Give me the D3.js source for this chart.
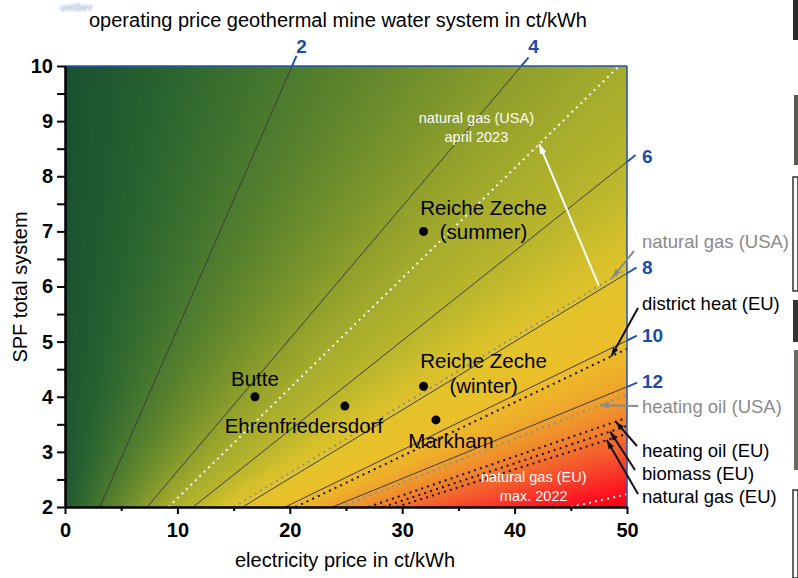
<!DOCTYPE html>
<html>
<head>
<meta charset="utf-8">
<script src="https://cdn.jsdelivr.net/npm/d3@7/dist/d3.min.js"></script>
<style>
  html, body { margin: 0; padding: 0; background: #fff; }
  svg { display: block; font-family: "Liberation Sans", Arial, sans-serif; }
</style>
</head>
<body>
<svg id="chart" width="798" height="578"></svg>
<script>
// ---- axis ticks ----
const xMajor = [0, 10, 20, 30, 40, 50];
const xMinor = [5, 15, 25, 35, 45];
const yMajor = [2, 3, 4, 5, 6, 7, 8, 9, 10];
const yMinor = [2.5, 3.5, 4.5, 5.5, 6.5, 7.5, 8.5, 9.5];

// ---- iso-lines of the operating price (ct/kWh): [electricity price, SPF] end points ----
const contourLabels = ["2", "4", "6", "8", "10", "12"];
const contourFrom = [[3.1, 2], [7.3, 2], [11.4, 2], [15.8, 2], [19.6, 2], [23.8, 2]];
const contourTo   = [[20.2, 10], [40.6, 10], [50, 8.26], [50, 6.24], [50, 5.02], [50, 4.18]];

// ---- heat prices of conventional supply, drawn as dotted iso-lines ----
const refNames = ["natural gas (USA) april 2023", "natural gas (USA)", "district heat (EU)",
                  "heating oil (USA)", "heating oil (EU)", "biomass (EU)", "natural gas (EU)",
                  "natural gas (EU) max. 2022"];
const refGroup = ["highlight", "usa", "eu", "usa", "eu", "eu", "eu", "highlight"];
const refFrom = [[9.2, 2], [15.0, 2], [20.5, 2], [24.5, 2], [27.0, 2], [28.3, 2], [29.5, 2], [45.0, 2]];
const refTo   = [[49.3, 10], [50, 6.32], [50, 4.87], [50, 4.04], [50, 3.62], [50, 3.47], [50, 3.33], [50, 2.23]];

// ---- mine water sites: electricity price (ct/kWh) and SPF of the total system ----
const siteNames = ["Butte", "Ehrenfriedersdorf", "Reiche Zeche (summer)", "Reiche Zeche (winter)", "Markham"];
const siteElec  = [16.9, 24.9, 31.9, 31.9, 33.0];
const siteSPF   = [4.0, 3.83, 7.0, 4.19, 3.58];

// ---- colour ramp of the operating price field ----
const priceStops  = [0, 1, 2, 3, 4, 5, 6, 7, 8, 9.5, 11, 13, 15, 18, 21, 24];
const priceColors = ["#174f30", "#2a6430", "#4a792e", "#6b8c2c", "#8f9f2b", "#a8ad2c", "#bab62c",
                     "#d2bf2b", "#e3c32a", "#ebc02a", "#eeae2a", "#f08e2c", "#f36a2d", "#f83c2a",
                     "#ff1420", "#ff0018"];
// operating price = (electricity price + offset) / (gain * SPF)
const priceOffset = 1.0, priceGain = 1.04;

const svg = d3.select("#chart");
const plot = { left: 65, right: 627, top: 66, bottom: 507 };

const x = d3.scaleLinear().domain([0, 50]).range([plot.left, plot.right]);
const y = d3.scaleLinear().domain([2, 10]).range([plot.bottom, plot.top]);
const color = d3.scaleLinear().domain(priceStops).range(priceColors)
  .interpolate(d3.interpolateRgb).clamp(true);

const blue = "#1f55b5";
const blueText = "#1a4da6";

// ---- price field rendered to a raster ----
{
  const pw = plot.right - plot.left, ph = plot.bottom - plot.top;
  const cv = document.createElement("canvas");
  cv.width = pw; cv.height = ph;
  const ctx = cv.getContext("2d");
  const img = ctx.createImageData(pw, ph);
  for (let j = 0; j < ph; j++) {
    const spf = y.invert(plot.top + j + 0.5);
    for (let i = 0; i < pw; i++) {
      const el = x.invert(plot.left + i + 0.5);
      const p = (el + priceOffset) / (priceGain * spf);
      const c = d3.rgb(color(p));
      const k = (j * pw + i) * 4;
      img.data[k] = c.r; img.data[k + 1] = c.g; img.data[k + 2] = c.b; img.data[k + 3] = 255;
    }
  }
  ctx.putImageData(img, 0, 0);
  svg.append("image")
    .attr("x", plot.left).attr("y", plot.top)
    .attr("width", pw).attr("height", ph)
    .attr("href", cv.toDataURL());
}

const defs = svg.append("defs");
defs.append("clipPath").attr("id", "plotClip")
  .append("rect").attr("x", plot.left).attr("y", plot.top)
  .attr("width", plot.right - plot.left).attr("height", plot.bottom - plot.top);
defs.append("filter").attr("id", "soft")
  .append("feGaussianBlur").attr("stdDeviation", 0.8);

function arrowMarker(id, fill, len, wid) {
  defs.append("marker").attr("id", id)
    .attr("viewBox", `0 0 ${len} ${wid}`)
    .attr("refX", len).attr("refY", wid / 2)
    .attr("markerWidth", len).attr("markerHeight", wid)
    .attr("markerUnits", "userSpaceOnUse")
    .attr("orient", "auto")
    .append("path").attr("d", `M0,0 L${len},${wid / 2} L0,${wid} Z`).attr("fill", fill);
}
arrowMarker("arBlack", "#111", 9, 6);
arrowMarker("arGray", "#8a8a8a", 9, 6);
arrowMarker("arWhite", "#fff", 10, 7);

const clipped = svg.append("g").attr("clip-path", "url(#plotClip)");

// ---- contour lines of the operating price ----
const contours = contourLabels.map((lab, i) => ({ lab, a: contourFrom[i], b: contourTo[i] }));
clipped.selectAll("line.contour").data(contours).join("line")
  .attr("class", "contour")
  .attr("x1", d => x(d.a[0])).attr("y1", d => y(d.a[1]))
  .attr("x2", d => x(d.b[0])).attr("y2", d => y(d.b[1]))
  .attr("stroke", "#3c3c3c").attr("stroke-width", 1);

// ---- reference heat prices ----
const refStroke = { highlight: "#ffffff", usa: "#8f8f8f", eu: "#111111" };
const refs = refNames.map((n, i) => ({ n, g: refGroup[i], a: refFrom[i], b: refTo[i] }));
clipped.selectAll("line.ref").data(refs).join("line")
  .attr("class", "ref")
  .attr("x1", d => x(d.a[0])).attr("y1", d => y(d.a[1]))
  .attr("x2", d => x(d.b[0])).attr("y2", d => y(d.b[1]))
  .attr("stroke", d => refStroke[d.g]).attr("stroke-width", 2)
  .attr("stroke-dasharray", "2 4.2");

function spfOn(ref, el) {
  return ref.a[1] + (ref.b[1] - ref.a[1]) * (el - ref.a[0]) / (ref.b[0] - ref.a[0]);
}

// ---- frame: blue top and right borders ----
svg.append("line").attr("x1", plot.left).attr("x2", plot.right)
  .attr("y1", plot.top).attr("y2", plot.top).attr("stroke", blue).attr("stroke-width", 1.5);
svg.append("line").attr("x1", plot.right).attr("x2", plot.right)
  .attr("y1", plot.top).attr("y2", plot.bottom).attr("stroke", blue).attr("stroke-width", 1.5);

// ---- blue leaders + price labels of the contours ----
contours.forEach(d => {
  const x1 = x(d.a[0]), y1 = y(d.a[1]), x2 = x(d.b[0]), y2 = y(d.b[1]);
  const L = Math.hypot(x2 - x1, y2 - y1);
  const ux = (x2 - x1) / L, uy = (y2 - y1) / L;
  const ext = 11;
  const ex = x2 + ux * ext, ey = y2 + uy * ext;
  svg.append("line").attr("x1", x2).attr("y1", y2).attr("x2", ex).attr("y2", ey)
    .attr("stroke", blue).attr("stroke-width", 2);
  const onTop = d.b[1] >= 10;
  svg.append("text")
    .attr("x", onTop ? ex + 5 : plot.right + 15)
    .attr("y", onTop ? plot.top - 13 : y2 + 1)
    .attr("text-anchor", onTop ? "middle" : "start")
    .attr("font-size", 19).attr("font-weight", "bold")
    .attr("fill", blueText).text(d.lab);
});

// ---- axes ----
const xAxis = svg.append("g").attr("transform", `translate(0,${plot.bottom})`)
  .call(d3.axisBottom(x).tickValues(xMajor).tickSize(7).tickSizeOuter(0).tickPadding(9));
const xAxisMinor = svg.append("g").attr("transform", `translate(0,${plot.bottom})`)
  .call(d3.axisBottom(x).tickValues(xMinor).tickSize(4).tickSizeOuter(0).tickFormat(""));
const yAxis = svg.append("g").attr("transform", `translate(${plot.left},0)`)
  .call(d3.axisLeft(y).tickValues(yMajor).tickSize(8).tickSizeOuter(0).tickPadding(4));
const yAxisMinor = svg.append("g").attr("transform", `translate(${plot.left},0)`)
  .call(d3.axisLeft(y).tickValues(yMinor).tickSize(8).tickSizeOuter(0).tickFormat(""));
[xAxis, xAxisMinor, yAxis, yAxisMinor].forEach(g => {
  g.select(".domain").attr("stroke", "#000").attr("stroke-width", 2);
  g.selectAll(".tick line").attr("stroke", "#000").attr("stroke-width", 2);
  g.selectAll(".tick text").attr("fill", "#000").attr("font-size", 20)
    .attr("font-weight", "bold").attr("font-family", "Liberation Sans, Arial, sans-serif");
});

// ---- sites ----
const labelLayout = {
  "Butte": [{ t: "Butte", dx: 0, dy: -11 }],
  "Ehrenfriedersdorf": [{ t: "Ehrenfriedersdorf", dx: -41, dy: 27 }],
  "Reiche Zeche (summer)": [{ t: "Reiche Zeche", dx: 60, dy: -16 }, { t: "(summer)", dx: 60, dy: 8 }],
  "Reiche Zeche (winter)": [{ t: "Reiche Zeche", dx: 60, dy: -18 }, { t: "(winter)", dx: 60, dy: 7 }],
  "Markham": [{ t: "Markham", dx: 15, dy: 28 }]
};
const sites = siteNames.map((n, i) => ({ n, e: siteElec[i], s: siteSPF[i] }));
const siteG = svg.append("g");
siteG.selectAll("circle").data(sites).join("circle")
  .attr("cx", d => x(d.e)).attr("cy", d => y(d.s)).attr("r", 4.5).attr("fill", "#000");
sites.forEach(d => {
  labelLayout[d.n].forEach(l => {
    siteG.append("text").attr("x", x(d.e) + l.dx).attr("y", y(d.s) + l.dy)
      .attr("text-anchor", "middle").attr("font-size", 20.5).attr("fill", "#000").text(l.t);
  });
});

// ---- white annotations inside the field ----
const whiteNotes = [
  { lines: ["natural gas (USA)", "april 2023"], e: 36.6, s: 8.97 },
  { lines: ["natural gas (EU)", "max. 2022"], e: 41.7, s: 2.45 }
];
whiteNotes.forEach(w => {
  w.lines.forEach((t, k) => {
    svg.append("text").attr("x", x(w.e)).attr("y", y(w.s) + k * 19)
      .attr("text-anchor", "middle").attr("font-size", 14.5).attr("fill", "#fff").text(t);
  });
});
// price rise of US natural gas
svg.append("line")
  .attr("x1", x(47.5)).attr("y1", y(spfOn(refs[1], 47.5)))
  .attr("x2", x(42.2)).attr("y2", y(spfOn(refs[0], 42.2)))
  .attr("stroke", "#fff").attr("stroke-width", 2).attr("marker-end", "url(#arWhite)");

// ---- labels of the reference prices on the right ----
const sideNotes = [
  { ref: 1, text: "natural gas (USA)", ty: 248, tail: [634, 251], tip: 48.7 },
  { ref: 2, text: "district heat (EU)", ty: 310, tail: [638, 308], tip: 48.6 },
  { ref: 3, text: "heating oil (USA)", ty: 413, tail: [638, 406], tip: 47.6 },
  { ref: 4, text: "heating oil (EU)", ty: 457, tail: [637, 446], tip: 49.0 },
  { ref: 5, text: "biomass (EU)", ty: 480, tail: [635, 470], tip: 48.5 },
  { ref: 6, text: "natural gas (EU)", ty: 503, tail: [638, 494], tip: 48.2 }
];
sideNotes.forEach(nt => {
  const r = refs[nt.ref];
  const isUSA = r.g === "usa";
  const c = isUSA ? "#8a8a8a" : "#111";
  svg.append("line")
    .attr("x1", nt.tail[0]).attr("y1", nt.tail[1])
    .attr("x2", x(nt.tip)).attr("y2", y(spfOn(r, nt.tip)))
    .attr("stroke", c).attr("stroke-width", 2)
    .attr("marker-end", isUSA ? "url(#arGray)" : "url(#arBlack)");
  svg.append("text").attr("x", 642).attr("y", nt.ty)
    .attr("font-size", 18.5).attr("fill", isUSA ? "#8a8a8a" : "#000").text(nt.text);
});

// ---- titles ----
svg.append("text").attr("x", 338).attr("y", 27).attr("text-anchor", "middle")
  .attr("font-size", 20).attr("fill", "#000")
  .text("operating price geothermal mine water system in ct/kWh");
svg.append("text").attr("x", 345).attr("y", 567).attr("text-anchor", "middle")
  .attr("font-size", 20).attr("fill", "#000").text("electricity price in ct/kWh");
svg.append("text").attr("transform", "translate(27,287) rotate(-90)").attr("text-anchor", "middle")
  .attr("font-size", 20).attr("fill", "#000").text("SPF total system");

// ---- page margin: fragments of the neighbouring layout ----
svg.append("text").attr("x", 60).attr("y", 11).attr("font-size", 11).attr("font-weight", "bold")
  .attr("fill", "#a9bbd8").attr("filter", "url(#soft)").text("ueiber");
const edge = svg.append("g");
edge.append("rect").attr("x", 793).attr("y", 0).attr("width", 5).attr("height", 40).attr("fill", "#2a2a2a");
edge.append("rect").attr("x", 794).attr("y", 95).attr("width", 4).attr("height", 70).attr("fill", "#5a5a50");
edge.append("rect").attr("x", 793).attr("y", 177).attr("width", 5).attr("height", 114)
  .attr("fill", "#fafafa").attr("stroke", "#333").attr("stroke-width", 1.5);
edge.append("rect").attr("x", 793).attr("y", 300).attr("width", 5).attr("height", 42).attr("fill", "#333");
edge.append("rect").attr("x", 794).attr("y", 350).attr("width", 4).attr("height", 120).attr("fill", "#6a6a60");
edge.append("rect").attr("x", 793).attr("y", 490).attr("width", 5).attr("height", 88)
  .attr("fill", "#fafafa").attr("stroke", "#333").attr("stroke-width", 1.5);
</script>
</body>
</html>
